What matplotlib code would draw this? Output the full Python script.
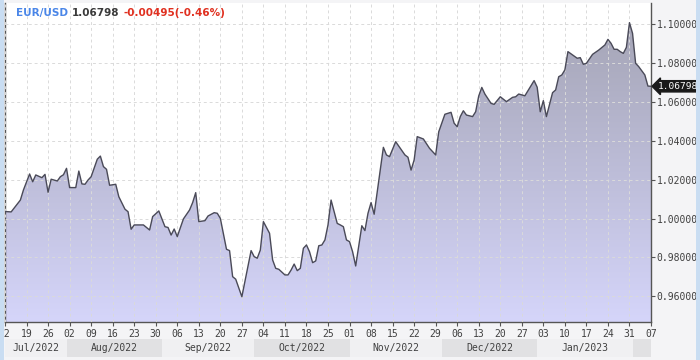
import matplotlib
matplotlib.use("Agg")
import matplotlib.pyplot as plt
import matplotlib.dates as mdates
from matplotlib.patches import Rectangle, Polygon
from matplotlib.transforms import blended_transform_factory
import numpy as np
import pandas as pd

# ---------------- data ----------------
dates = [
    "2022-07-12", "2022-07-14", "2022-07-17", "2022-07-18", "2022-07-20", "2022-07-21",
    "2022-07-22", "2022-07-24", "2022-07-25", "2022-07-26", "2022-07-27", "2022-07-29",
    "2022-07-30", "2022-07-31", "2022-08-01", "2022-08-02", "2022-08-04", "2022-08-05",
    "2022-08-06", "2022-08-07", "2022-08-08", "2022-08-09", "2022-08-11", "2022-08-12",
    "2022-08-13", "2022-08-14", "2022-08-15", "2022-08-17", "2022-08-18", "2022-08-20",
    "2022-08-21", "2022-08-22", "2022-08-23", "2022-08-26", "2022-08-28", "2022-08-29",
    "2022-08-31", "2022-09-02", "2022-09-03", "2022-09-04", "2022-09-05", "2022-09-06",
    "2022-09-08", "2022-09-10", "2022-09-11", "2022-09-12", "2022-09-13", "2022-09-15",
    "2022-09-16", "2022-09-18", "2022-09-19", "2022-09-20", "2022-09-22", "2022-09-23",
    "2022-09-24", "2022-09-25", "2022-09-27", "2022-09-30", "2022-10-01", "2022-10-02",
    "2022-10-03", "2022-10-04", "2022-10-06", "2022-10-07", "2022-10-08", "2022-10-09",
    "2022-10-11", "2022-10-12", "2022-10-13", "2022-10-14", "2022-10-15", "2022-10-16",
    "2022-10-17", "2022-10-18", "2022-10-19", "2022-10-20", "2022-10-21", "2022-10-22",
    "2022-10-23", "2022-10-24", "2022-10-25", "2022-10-26", "2022-10-28", "2022-10-29",
    "2022-10-30", "2022-10-31", "2022-11-01", "2022-11-02", "2022-11-03", "2022-11-05",
    "2022-11-06", "2022-11-07", "2022-11-08", "2022-11-09", "2022-11-12", "2022-11-13",
    "2022-11-14", "2022-11-16", "2022-11-18", "2022-11-19", "2022-11-20", "2022-11-21",
    "2022-11-22", "2022-11-23", "2022-11-25", "2022-11-27", "2022-11-29", "2022-11-30",
    "2022-12-02", "2022-12-04", "2022-12-05", "2022-12-06", "2022-12-07", "2022-12-08",
    "2022-12-09", "2022-12-11", "2022-12-12", "2022-12-13", "2022-12-14", "2022-12-15",
    "2022-12-17", "2022-12-18", "2022-12-20", "2022-12-22", "2022-12-24", "2022-12-25",
    "2022-12-26", "2022-12-28", "2022-12-31", "2023-01-01", "2023-01-02", "2023-01-03",
    "2023-01-04", "2023-01-06", "2023-01-07", "2023-01-08", "2023-01-09", "2023-01-10",
    "2023-01-11", "2023-01-13", "2023-01-14", "2023-01-15", "2023-01-16", "2023-01-17",
    "2023-01-19", "2023-01-21", "2023-01-23", "2023-01-24", "2023-01-25", "2023-01-26",
    "2023-01-27", "2023-01-28", "2023-01-29", "2023-01-30", "2023-01-31", "2023-02-01",
    "2023-02-02", "2023-02-03", "2023-02-05", "2023-02-06", "2023-02-07",
]
rates = [
    1.0036, 1.0034, 1.0095, 1.0147, 1.0229, 1.0189,
    1.0224, 1.0210, 1.0227, 1.0135, 1.0202, 1.0193,
    1.0215, 1.0225, 1.0258, 1.0159, 1.0159, 1.0244,
    1.0178, 1.0176, 1.0198, 1.0215, 1.0305, 1.0321,
    1.0267, 1.0253, 1.0171, 1.0176, 1.0112, 1.0048,
    1.0035, 0.9945, 0.9967, 0.9967, 0.9941, 1.0010,
    1.0039, 0.9958, 0.9954, 0.9915, 0.9946, 0.9907,
    0.9998, 1.0044, 1.0082, 1.0133, 0.9984, 0.9989,
    1.0013, 1.0030, 1.0027, 1.0001, 0.9842, 0.9835,
    0.9701, 0.9688, 0.9598, 0.9835, 0.9804, 0.9796,
    0.9838, 0.9984, 0.9924, 0.9787, 0.9744, 0.9739,
    0.9710, 0.9710, 0.9735, 0.9766, 0.9732, 0.9744,
    0.9847, 0.9864, 0.9829, 0.9773, 0.9782, 0.9860,
    0.9864, 0.9890, 0.9967, 1.0095, 0.9975, 0.9967,
    0.9958, 0.9890, 0.9881, 0.9829, 0.9756, 0.9963,
    0.9938, 1.0027, 1.0082, 1.0022, 1.0366, 1.0327,
    1.0318, 1.0395, 1.0349, 1.0327, 1.0315, 1.0249,
    1.0301, 1.0421, 1.0409, 1.0361, 1.0327, 1.0446,
    1.0536, 1.0546, 1.0490, 1.0472, 1.0524, 1.0554,
    1.0532, 1.0524, 1.0549, 1.0630, 1.0674, 1.0640,
    1.0592, 1.0587, 1.0626, 1.0601, 1.0623, 1.0626,
    1.0640, 1.0631, 1.0709, 1.0675, 1.0549, 1.0606,
    1.0524, 1.0647, 1.0661, 1.0729, 1.0738, 1.0764,
    1.0858, 1.0835, 1.0824, 1.0827, 1.0793, 1.0798,
    1.0844, 1.0866, 1.0892, 1.0921, 1.0901, 1.0870,
    1.0870, 1.0858, 1.0849, 1.0880, 1.1007, 1.0952,
    1.0798, 1.0781, 1.0738, 1.0681, 1.06798,
]
symbol = "EUR/USD"
last_price = "1.06798"
change_text = "-0.00495(-0.46%)"
y_ticks = [0.96, 0.98, 1.00, 1.02, 1.04, 1.06, 1.08, 1.10]
month_labels = ["Jul/2022", "Aug/2022", "Sep/2022", "Oct/2022",
                "Nov/2022", "Dec/2022", "Jan/2023", ""]
month_starts = ["2022-07-01", "2022-08-01", "2022-09-01", "2022-10-01",
                "2022-11-01", "2022-12-01", "2023-01-01", "2023-02-01"]

# ---------------- figure ----------------
W, H = 700, 360
fig = plt.figure(figsize=(7, 3.6), dpi=100)
fig.patch.set_facecolor("#f4f4f6")

ax = fig.add_axes([5 / W, 1 - 322 / H, (651 - 5) / W, (322 - 3) / H])
ax.set_facecolor("white")

x = mdates.date2num(pd.to_datetime(dates))
y = np.array(rates)
x0 = mdates.date2num(pd.Timestamp("2022-07-12"))
x1 = mdates.date2num(pd.Timestamp("2023-02-07"))
ymin, ymax = 0.9468, 1.1108

# gradient fill
poly_xy = np.vstack([np.column_stack([x, y]), [[x[-1], ymin], [x[0], ymin]]])
poly = Polygon(poly_xy, closed=True, facecolor="none", edgecolor="none")
ax.add_patch(poly)
top_c = np.array([0xa2, 0xa2, 0xb2]) / 255
bot_c = np.array([0xd5, 0xd5, 0xfa]) / 255
t = np.linspace(0, 1, 256)[:, None]
grad = top_c[None, :] * (1 - t) + bot_c[None, :] * t
grad = np.repeat(grad[:, None, :], 2, axis=1)
im = ax.imshow(grad, extent=[x0, x1, ymin, ymax], aspect="auto",
               origin="upper", zorder=1, interpolation="bilinear")
im.set_clip_path(poly)
ax.set_xlim(x0, x1)
ax.set_ylim(ymin, ymax)

ax.plot(x, y, color="#4a4a58", lw=1.0, zorder=3)

# axes styling
ax.spines["top"].set_visible(False)
for s in ["left", "right", "bottom"]:
    ax.spines[s].set_color("#555555")
    ax.spines[s].set_linewidth(1.0)

ax.yaxis.tick_right()
ax.set_yticks(y_ticks)
ax.set_yticklabels([f"{v:.5f}" for v in y_ticks])
week_ticks = pd.date_range("2022-07-12", "2023-02-07", freq="7D")
ax.set_xticks(mdates.date2num(week_ticks))
ax.set_xticklabels([d.strftime("%d") for d in week_ticks])
ax.tick_params(axis="both", direction="out", length=3, width=0.8,
               color="#555555", labelcolor="#404040", labelsize=7)
for lab in ax.get_xticklabels() + ax.get_yticklabels():
    lab.set_family("DejaVu Sans Mono")
ax.tick_params(axis="y", pad=1)
ax.tick_params(axis="x", pad=2)

ax.grid(True, color="#dadada", lw=0.7, linestyle=(0, (3, 3)))
ax.set_axisbelow(False)
for gl in ax.get_xgridlines() + ax.get_ygridlines():
    gl.set_zorder(2)

# month band
trans = blended_transform_factory(ax.transData, fig.transFigure)
band_y0 = 1 - 357 / H
band_h = 18 / H
ms = mdates.date2num(pd.to_datetime(month_starts))
for i, lab in enumerate(month_labels):
    a = max(ms[i], x0)
    b = ms[i + 1] if i + 1 < len(ms) else x1
    b = min(b, x1)
    col = "#f0f0f2" if i % 2 == 0 else "#e1e1e3"
    fig.add_artist(Rectangle((a, band_y0), b - a, band_h, transform=trans,
                             facecolor=col, edgecolor="none", zorder=0))
    if lab:
        fig.text((a + b) / 2, band_y0 + band_h / 2, lab, transform=trans,
                 ha="center", va="center", fontsize=7, color="#404040",
                 family="DejaVu Sans Mono")

# side strips
fig.add_artist(Rectangle((0, 0), 4 / W, 1, transform=fig.transFigure,
                         facecolor="#c9ddf2", edgecolor="none", zorder=10))
fig.add_artist(Rectangle((696 / W, 0), 4 / W, 1, transform=fig.transFigure,
                         facecolor="#c9ddf2", edgecolor="none", zorder=10))

# last price marker
ax.annotate(last_price, xy=(1.0, rates[-1]), xycoords=("axes fraction", "data"),
            xytext=(5, 0), textcoords="offset points", ha="left", va="center",
            fontsize=6.8, color="white", family="DejaVu Sans Mono",
            bbox=dict(boxstyle="larrow,pad=0.12", fc="#1a1a1a", ec="#1a1a1a"),
            annotation_clip=False, zorder=20)

# title pieces
fig.canvas.draw()
r = fig.canvas.get_renderer()
xpos = 16 / W
ty = 1 - 13 / H
for txt, col in [(symbol, "#4a86e8"), (last_price, "#3a3a3a"), (change_text, "#e03020")]:
    tt = fig.text(xpos, ty, txt, color=col, fontsize=7.5, fontweight="bold",
                  va="center", ha="left")
    bb = tt.get_window_extent(r)
    xpos = bb.x1 / W + 4 / W

fig.savefig("out.png", dpi=100)
